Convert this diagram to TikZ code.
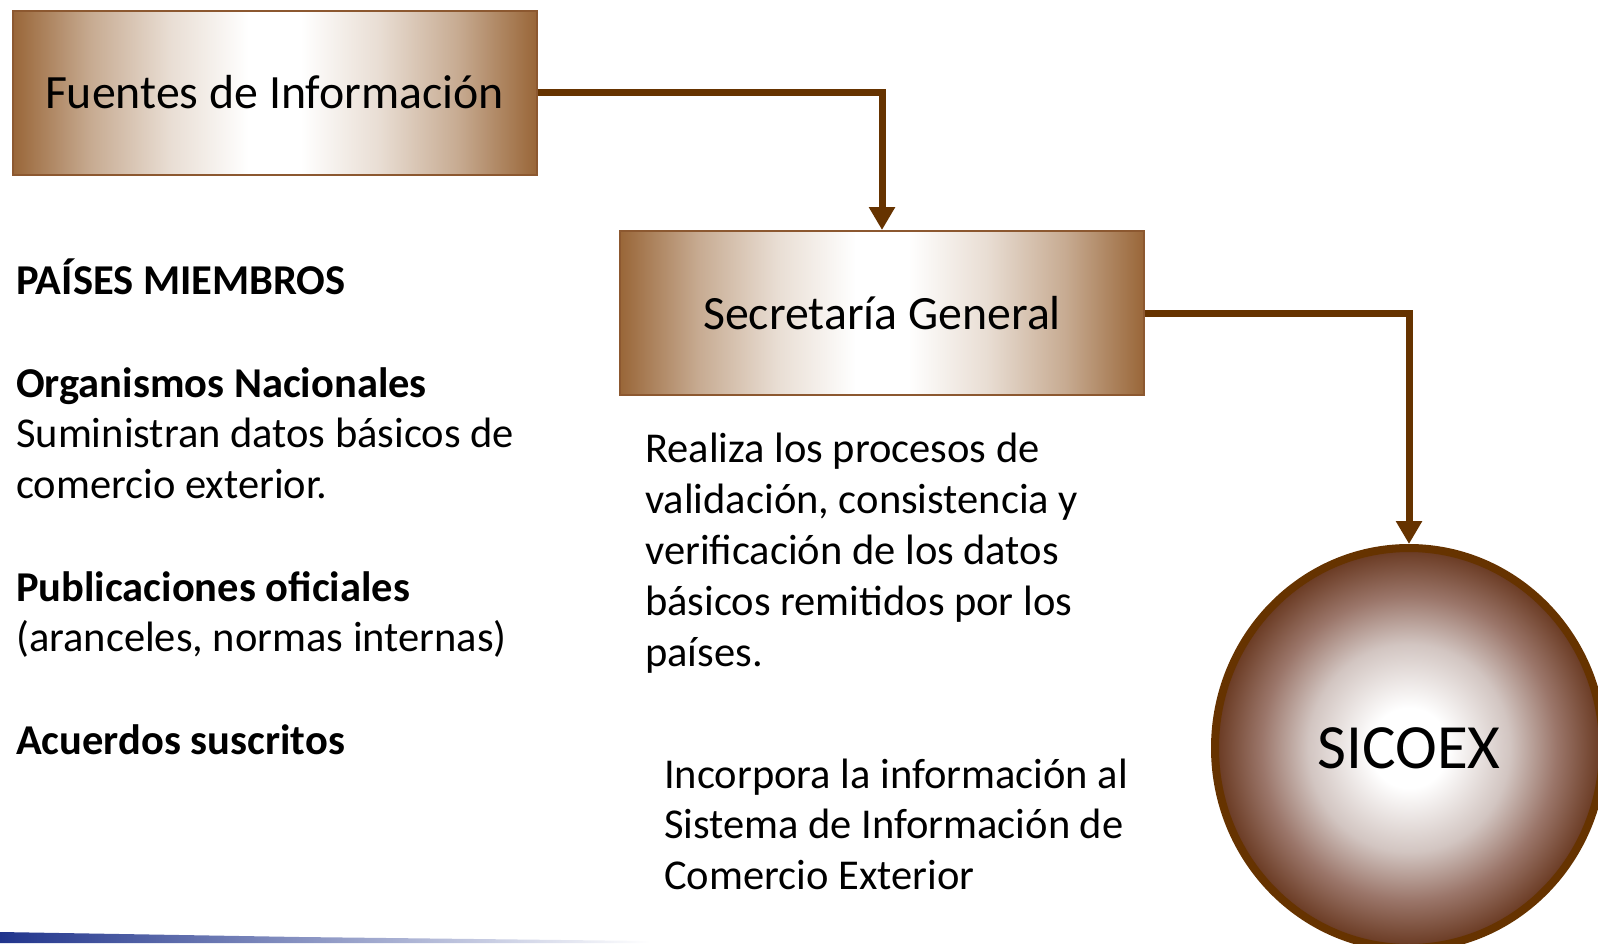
\documentclass[tikz,border=0pt]{standalone}
\usepackage{fontspec}
\setmainfont{Carlito}
\usetikzlibrary{arrows.meta,shapes.geometric}

\definecolor{cafe}{RGB}{153,102,56}
\definecolor{cafeborde}{RGB}{140,88,48}
\definecolor{cafeoscuro}{RGB}{102,51,0}
\definecolor{azulslide}{RGB}{32,52,140}

\pgfdeclarehorizontalshading{cajashade}{100bp}{color(0bp)=(cafe); color(25bp)=(cafe);
  color(32.5bp)=(cafe!55!white); color(40bp)=(cafe!22!white); color(47.5bp)=(white);
  color(52.5bp)=(white); color(60bp)=(cafe!22!white); color(67.5bp)=(cafe!55!white);
  color(75bp)=(cafe); color(100bp)=(cafe)}
\pgfdeclareradialshading{sicoexshade}{\pgfpoint{0bp}{0bp}}{color(0bp)=(white);
  color(5bp)=(white); color(13bp)=(rgb,255:red,210;green,197;blue,193);
  color(19bp)=(rgb,255:red,155;green,118;blue,106); color(25bp)=(rgb,255:red,104;green,56;blue,32);
  color(50bp)=(rgb,255:red,104;green,56;blue,32)}

\begin{document}
\begin{tikzpicture}[x=1pt,y=-1pt,
    caja/.style={draw=cafeborde,line width=2pt,shading=cajashade,minimum width=524pt,
      minimum height=164pt,inner sep=0pt,font=\fontsize{47.8}{57}\selectfont},
    flecha/.style={draw=cafeoscuro,line width=7pt,-{Triangle[width=25pt,length=23pt]}},
    texto/.style={anchor=base west,inner sep=0pt,align=left,text width=560pt,
      font=\fontsize{42.5}{50.6}\selectfont,
      execute at begin node={\spaceskip=0pt\xspaceskip=0pt}}]
\useasboundingbox (0,0) rectangle (1598,943);
% franja azul del pie
\shade[left color=azulslide,right color=white] (0,932) -- (300,937) -- (650,941) -- (650,943) -- (0,943) -- cycle;

\node[caja] (fuentes) at (274.5,92.5) {Fuentes de Información};
\node[caja] (secretaria) at (882,313) {Secretaría General};
\node[draw=cafeoscuro,line width=8pt,ellipse,shading=sicoexshade,minimum width=388pt,
  minimum height=400pt,inner sep=0pt,font=\fontsize{63}{70}\selectfont] (sicoex) at (1409,748) {SICOEX};

\draw[flecha] (fuentes.east) -| (secretaria.north);
\draw[flecha] (secretaria.east) -| (sicoex.north);

% paises miembros
\node[texto] (paises) at (16,294) {\textbf{PAÍSES MIEMBROS}};
\node[texto] (organismos) at (16,397) {\textbf{Organismos Nacionales}\\Suministran datos básicos de\\comercio exterior.};
\node[texto] (publicaciones) at (16,601) {\textbf{Publicaciones oficiales}\\(aranceles, normas internas)};
\node[texto] (acuerdos) at (16,754) {\textbf{Acuerdos suscritos}};

% secretaria
\node[texto,font=\fontsize{42.5}{51}\selectfont] (procesos) at (645,462) {Realiza los procesos de\\validación, consistencia y\\verificación de los datos\\básicos remitidos por los\\países.};
\node[texto] (incorpora) at (664,788) {Incorpora la información al\\Sistema de Información de\\Comercio Exterior};
\end{tikzpicture}
\end{document}
